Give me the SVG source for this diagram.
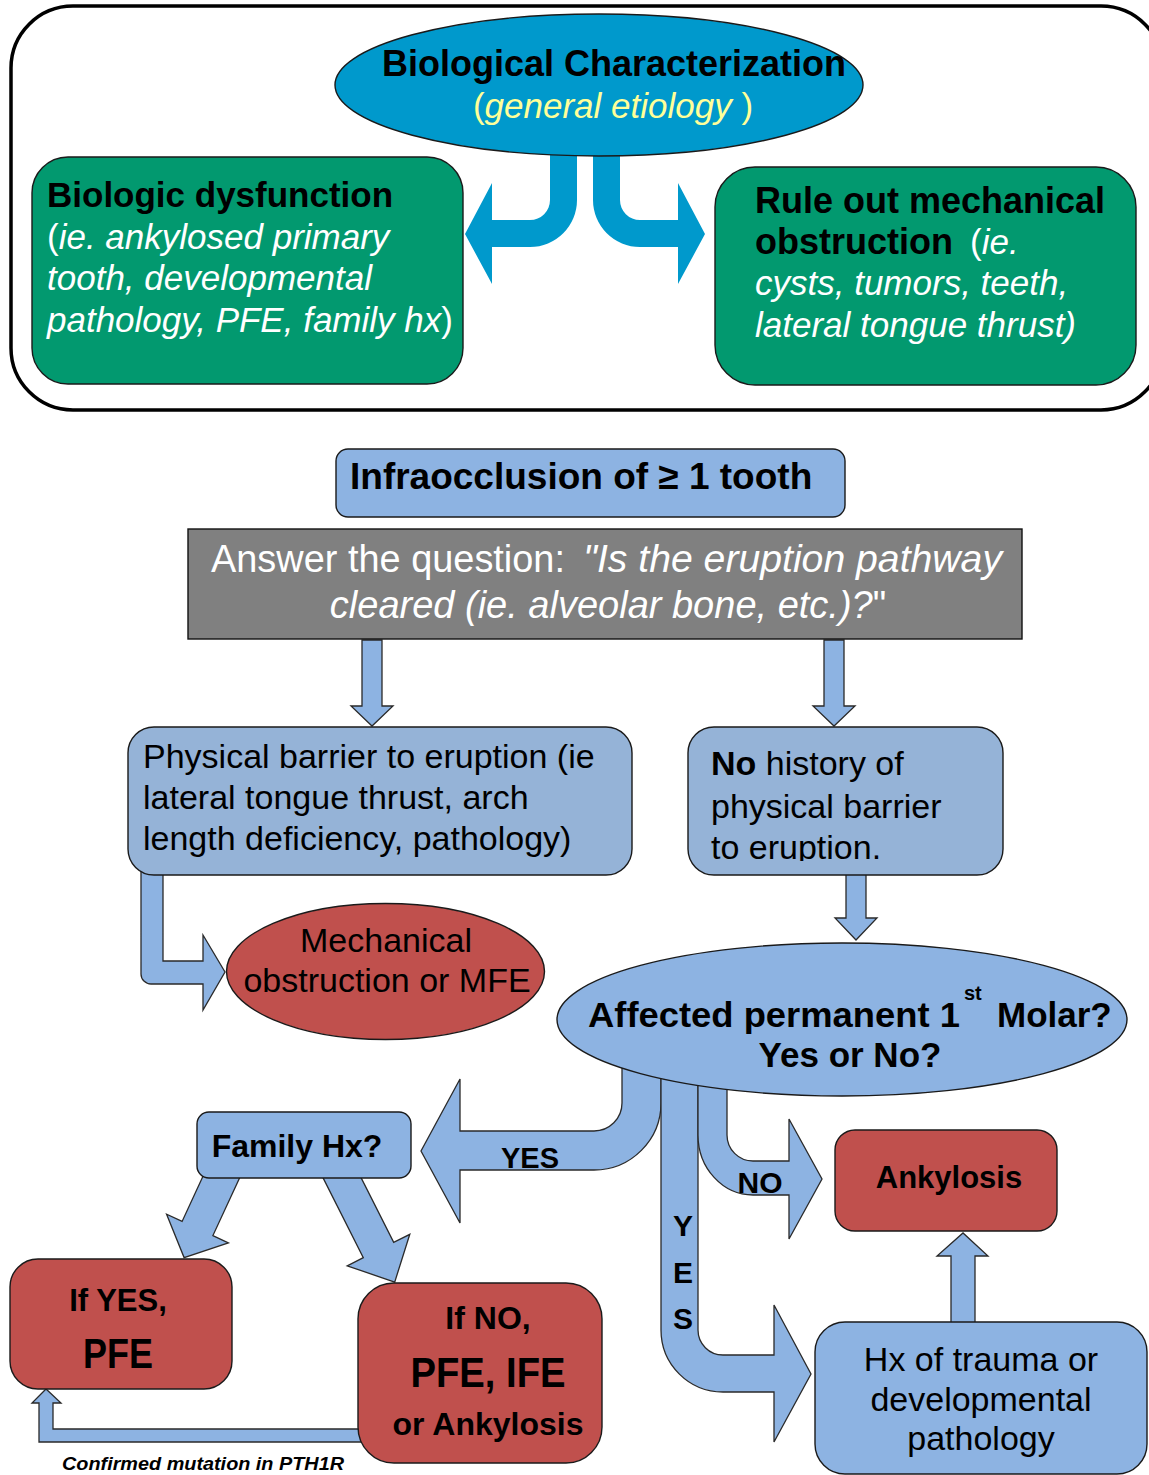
<svg xmlns="http://www.w3.org/2000/svg" width="1149" height="1475" viewBox="0 0 1149 1475">
<style>
text{font-family:"Liberation Sans",Arial,sans-serif;fill:#000}
.b{font-weight:bold}
.i{font-style:italic}
.w{fill:#fff}
.y{fill:#FFFF99}
.nd{stroke:#1a1a1a;stroke-width:1.4}
.blue{fill:#8DB3E2}
.blue2{fill:#95B3D7}
.red{fill:#C0504D}
.green{fill:#02996F}
.arr{fill:#8DB3E2;stroke:#2a2a2a;stroke-width:1.3;stroke-linejoin:miter}
.tarr{fill:#0099CC}
</style>
<defs>
<clipPath id="clipNo"><rect x="688" y="727" width="316" height="134"/></clipPath>
</defs>
<rect width="1149" height="1475" fill="#fff"/>

<g id="frame">
<rect x="11" y="6" width="1152" height="404" rx="62" ry="62" fill="none" stroke="#000" stroke-width="3.5"/>
</g>

<g id="connectors">
<path class="tarr" d="M550,140 L550,200 A20,20 0 0 1 530,220 L492,220 L492,183 L465,234 L492,284 L492,247 L530,247 A47,47 0 0 0 577,200 L577,140 Z"/>
<path class="tarr" d="M620,140 L620,200 A20,20 0 0 0 640,220 L678,220 L678,183 L705,234 L678,284 L678,247 L640,247 A47,47 0 0 1 593,200 L593,140 Z"/>
<path class="arr" d="M362,640 L362,706 L351,706 L372,726 L393,706 L382,706 L382,640 Z"/>
<path class="arr" d="M824,640 L824,706 L813,706 L834,726 L855,706 L844,706 L844,640 Z"/>
<path class="arr" d="M141,868 L141,974 A10,10 0 0 0 151,984 L203,984 L203,1010 L225,972 L203,935 L203,961 L163,961 L163,868 Z"/>
<path class="arr" d="M846,870 L846,918 L835,918 L856,940 L877,918 L866,918 L866,870 Z"/>
<path class="arr" d="M622,1050 L622,1103 A28,28 0 0 1 594,1131 L460,1131 L460,1079 L421,1151 L460,1223 L460,1170 L594,1170 A67,67 0 0 0 661,1103 L661,1050 Z"/>
<path class="arr" d="M661,1050 L661,1330 A62,62 0 0 0 723,1392 L774,1392 L774,1442 L811,1374 L774,1305 L774,1355 L723,1355 A25,25 0 0 1 698,1330 L698,1050 Z"/>
<path class="arr" d="M698,1050 L698,1135 A55,60 0 0 0 753,1195 L789,1195 L789,1239 L822,1179 L789,1119 L789,1161 L753,1161 A26,26 0 0 1 727,1135 L727,1050 Z"/>
<path class="arr" d="M213.6,1153.3 L182.1,1221.4 L166.6,1214.2 L184.1,1257.6 L228.4,1242.8 L212.9,1235.6 L244.4,1167.5 Z"/>
<path class="arr" d="M318.3,1168.4 L363.3,1257.7 L347.2,1265.8 L394.7,1282.1 L409.8,1234.3 L393.7,1242.4 L348.7,1153.1 Z"/>
<path class="arr" d="M370,1429 L53,1429 L53,1403 L61,1403 L46,1389 L32,1403 L39,1403 L39,1442 L370,1442 Z"/>
<path class="arr" d="M951,1330 L951,1256 L937,1256 L963,1233 L988,1256 L975,1256 L975,1330 Z"/>
</g>

<g id="node-bio-char">
<ellipse cx="599" cy="85" rx="264" ry="71" fill="#0099CC" class="nd"/>
<text x="614" y="76" text-anchor="middle" class="b" font-size="36">Biological Characterization</text>
<text x="613" y="118" text-anchor="middle" font-size="35" class="y">(<tspan class="i y">general etiology</tspan> )</text>
</g>

<g id="node-biologic">
<rect x="32" y="157" width="431" height="227" rx="36" class="green nd"/>
<text x="47" y="207" class="b" font-size="35">Biologic dysfunction</text>
<text x="47" y="249" font-size="35" class="w">(<tspan class="i w">ie. ankylosed primary</tspan></text>
<text x="47" y="290" font-size="35" class="i w">tooth, developmental</text>
<text x="47" y="332" font-size="35" class="w"><tspan class="i w">pathology, PFE, family hx</tspan>)</text>
</g>

<g id="node-ruleout">
<rect x="715" y="167" width="421" height="218" rx="40" class="green nd"/>
<text x="755" y="213" class="b" font-size="36">Rule out mechanical</text>
<text x="755" y="254" font-size="36"><tspan class="b">obstruction</tspan><tspan x="970" class="w" font-size="35">(</tspan><tspan class="i w" font-size="35">ie.</tspan></text>
<text x="755" y="295" font-size="35" class="i w">cysts, tumors, teeth,</text>
<text x="755" y="337" font-size="35" class="i w">lateral tongue thrust)</text>
</g>

<g id="node-infra">
<rect x="336" y="449" width="509" height="68" rx="12" class="blue nd"/>
<text x="350" y="489" class="b" font-size="37">Infraocclusion of ≥ 1 tooth</text>
</g>

<g id="node-question">
<rect x="188" y="529" width="834" height="110" fill="#808080" stroke="#111" stroke-width="1.4"/>
<text x="211" y="572" font-size="38" class="w" textLength="354" lengthAdjust="spacingAndGlyphs">Answer the question:</text>
<text x="583" y="572" font-size="38" class="i w" textLength="419" lengthAdjust="spacingAndGlyphs">"Is the eruption pathway</text>
<text x="608" y="618" text-anchor="middle" font-size="38" class="w"><tspan class="i w">cleared (ie. alveolar bone, etc.)?</tspan>"</text>
</g>

<g id="node-physical">
<rect x="128" y="727" width="504" height="148" rx="26" class="blue2 nd"/>
<text x="143" y="768" font-size="34">Physical barrier to eruption (ie</text>
<text x="143" y="809" font-size="34">lateral tongue thrust, arch</text>
<text x="143" y="850" font-size="34">length deficiency, pathology)</text>
</g>

<g id="node-nohistory">
<rect x="688" y="727" width="315" height="148" rx="26" class="blue2 nd"/>
<g clip-path="url(#clipNo)">
<text x="711" y="775" font-size="34"><tspan class="b">No</tspan> history of</text>
<text x="711" y="818" font-size="34">physical barrier</text>
<text x="711" y="859" font-size="34">to eruption.</text>
</g>
</g>

<g id="node-mechanical">
<ellipse cx="385.5" cy="971.5" rx="159" ry="68" class="red nd"/>
<text x="386" y="952" text-anchor="middle" font-size="34">Mechanical</text>
<text x="387" y="992" text-anchor="middle" font-size="34">obstruction or MFE</text>
</g>

<g id="node-affected">
<ellipse cx="842" cy="1019.5" rx="285" ry="76.5" class="blue nd"/>
<text x="588" y="1027" class="b" font-size="35" textLength="372" lengthAdjust="spacingAndGlyphs">Affected permanent 1</text>
<text x="964" y="1000" class="b" font-size="20">st</text>
<text x="997" y="1027" class="b" font-size="35">Molar?</text>
<text x="850" y="1067" text-anchor="middle" class="b" font-size="35">Yes or No?</text>
</g>

<g id="labels">
<text x="530" y="1168" text-anchor="middle" class="b" font-size="29">YES</text>
<text x="760" y="1193" text-anchor="middle" class="b" font-size="30">NO</text>
<text x="683" y="1236" text-anchor="middle" class="b" font-size="30">Y</text>
<text x="683" y="1283" text-anchor="middle" class="b" font-size="30">E</text>
<text x="683" y="1329" text-anchor="middle" class="b" font-size="30">S</text>
<text x="62" y="1470" class="b i" font-size="19" textLength="282" lengthAdjust="spacingAndGlyphs">Confirmed mutation in PTH1R</text>
</g>

<g id="node-familyhx">
<rect x="197" y="1112" width="214" height="66" rx="12" class="blue nd"/>
<text x="297" y="1157" text-anchor="middle" class="b" font-size="32">Family Hx?</text>
</g>

<g id="node-ifyes">
<rect x="10" y="1259" width="222" height="130" rx="28" class="red nd"/>
<text x="118" y="1311" text-anchor="middle" class="b" font-size="31">If YES,</text>
<text x="118" y="1368" text-anchor="middle" class="b" font-size="42" textLength="70" lengthAdjust="spacingAndGlyphs">PFE</text>
</g>

<g id="node-ifno">
<rect x="358" y="1283" width="244" height="180" rx="36" class="red nd"/>
<text x="488" y="1329" text-anchor="middle" class="b" font-size="32">If NO,</text>
<text x="488" y="1387" text-anchor="middle" class="b" font-size="42" textLength="155" lengthAdjust="spacingAndGlyphs">PFE, IFE</text>
<text x="488" y="1435" text-anchor="middle" class="b" font-size="32">or Ankylosis</text>
</g>

<g id="node-ankylosis">
<rect x="835" y="1130" width="222" height="101" rx="20" class="red nd"/>
<text x="949" y="1188" text-anchor="middle" class="b" font-size="31">Ankylosis</text>
</g>

<g id="node-trauma">
<rect x="815" y="1322" width="332" height="152" rx="30" class="blue nd"/>
<text x="981" y="1371" text-anchor="middle" font-size="34">Hx of trauma or</text>
<text x="981" y="1411" text-anchor="middle" font-size="34">developmental</text>
<text x="981" y="1450" text-anchor="middle" font-size="34">pathology</text>
</g>
</svg>
